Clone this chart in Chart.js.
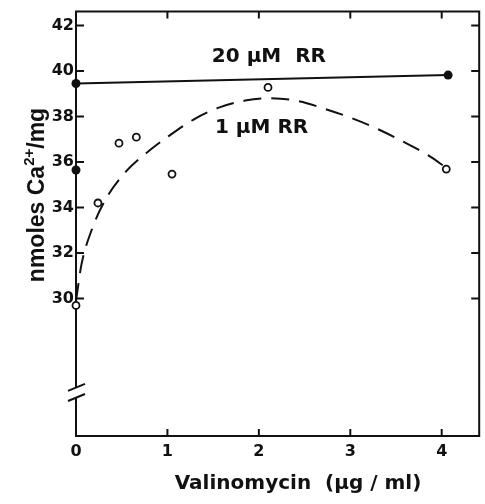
<!DOCTYPE html>
<html>
<head>
<meta charset="utf-8">
<script src="https://cdn.jsdelivr.net/npm/chart.js@4.4.1/dist/chart.umd.min.js"></script>
<style>
  html, body { margin: 0; padding: 0; background: #fff; }
</style>
</head>
<body>
<canvas id="chart" width="485" height="504"></canvas>
<script>
// 20 uM RR (filled circles, solid line)
const rr20X = [0, 4.07];
const rr20Y = [39.45, 39.82];
// extra filled point on the y axis
const filledX = [0];
const filledY = [35.65];
// 1 uM RR (open circles)
const rr1X = [0, 0.24, 0.47, 0.66, 1.05, 2.10, 4.05];
const rr1Y = [29.7, 34.2, 36.83, 37.09, 35.47, 39.28, 35.69];
// dashed curve drawn through the 1 uM RR points
const fitX = [0, 0.06, 0.17, 0.33, 0.55, 0.77, 1.0, 1.3, 1.57, 1.85, 2.1, 2.4, 2.75, 3.0, 3.3, 3.6, 3.85, 4.05];
const fitY = [29.9, 31.5, 33.0, 34.4, 35.6, 36.4, 37.1, 37.9, 38.4, 38.7, 38.8, 38.7, 38.3, 37.95, 37.45, 36.85, 36.3, 35.75];

const xTicks = [0, 1, 2, 3, 4];
const yTicks = [30, 32, 34, 36, 38, 40, 42];

const breakTop = 26.1;
const breakBottom = 25.65;

function pts(xs, ys) {
    return xs.map((v, i) => ({x: v, y: ys[i]}));
}

const ink = '#111';

const framePlugin = {
    id: 'frame',
    beforeDatasetsDraw(chart) {
        const ctx = chart.ctx;
        const a = chart.chartArea;
        const x = chart.scales.x, y = chart.scales.y;
        ctx.save();
        ctx.strokeStyle = ink;
        ctx.lineWidth = 2;
        const yb1 = y.getPixelForValue(breakTop);
        const yb2 = y.getPixelForValue(breakBottom);
        ctx.beginPath();
        ctx.moveTo(a.left, yb1);
        ctx.lineTo(a.left, a.top);
        ctx.lineTo(a.right, a.top);
        ctx.lineTo(a.right, a.bottom);
        ctx.lineTo(a.left, a.bottom);
        ctx.lineTo(a.left, yb2);
        ctx.stroke();
        // axis break marks
        [yb1, yb2].forEach(py => {
            ctx.beginPath();
            ctx.moveTo(a.left - 8, py + 3.5);
            ctx.lineTo(a.left + 9, py - 3.5);
            ctx.stroke();
        });
        // inward ticks on all four sides
        xTicks.forEach(v => {
            if (v === 0) return;
            const px = x.getPixelForValue(v);
            ctx.beginPath();
            ctx.moveTo(px, a.bottom); ctx.lineTo(px, a.bottom - 7);
            ctx.moveTo(px, a.top); ctx.lineTo(px, a.top + 7);
            ctx.stroke();
        });
        yTicks.forEach(v => {
            const py = y.getPixelForValue(v);
            ctx.beginPath();
            ctx.moveTo(a.left, py); ctx.lineTo(a.left + 8, py);
            ctx.moveTo(a.right, py); ctx.lineTo(a.right - 8, py);
            ctx.stroke();
        });
        ctx.restore();
    },
    afterDatasetsDraw(chart) {
        const ctx = chart.ctx;
        const x = chart.scales.x, y = chart.scales.y;
        ctx.save();
        ctx.fillStyle = ink;
        ctx.textBaseline = 'middle';
        ctx.textAlign = 'center';
        ctx.font = 'bold 20px "DejaVu Sans"';
        ctx.fillText('20 \u00b5M  RR', x.getPixelForValue(2.11), y.getPixelForValue(40.64));
        ctx.fillText('1 \u00b5M RR', x.getPixelForValue(2.03), y.getPixelForValue(37.49));

        // x axis title
        ctx.font = 'bold 20px "DejaVu Sans"';
        ctx.fillText('Valinomycin  (\u00b5g / ml)', 298, 484);

        // y axis title, rotated, with raised 2+
        ctx.translate(44, 195);
        ctx.rotate(-Math.PI / 2);
        ctx.textAlign = 'left';
        ctx.textBaseline = 'alphabetic';
        const big = 'bold 23px "Liberation Sans"';
        const small = 'bold 15px "Liberation Sans"';
        const parts = [['nmoles Ca', big, 0], ['2+', small, -10], ['/mg', big, 0]];
        let total = 0;
        parts.forEach(p => { ctx.font = p[1]; total += ctx.measureText(p[0]).width; });
        let cx = -total / 2;
        parts.forEach(p => {
            ctx.font = p[1];
            ctx.fillText(p[0], cx, p[2]);
            cx += ctx.measureText(p[0]).width;
        });
        ctx.restore();
    }
};

const tickFont = {family: 'DejaVu Sans', size: 16, weight: 'bold'};

const ctx = document.getElementById('chart').getContext('2d');
const myChart = new Chart(ctx, {
    type: 'scatter',
    data: {
        datasets: [{
            label: '1 uM RR',
            data: pts(rr1X, rr1Y),
            pointRadius: 3.5,
            pointBackgroundColor: '#fff',
            pointBorderColor: ink,
            pointBorderWidth: 1.8,
            showLine: false,
            clip: false,
            order: 0
        }, {
            label: 'filled',
            data: pts(filledX, filledY),
            pointRadius: 4.5,
            pointBackgroundColor: ink,
            pointBorderColor: ink,
            pointBorderWidth: 0,
            showLine: false,
            clip: false,
            order: 0
        }, {
            label: '20 uM RR',
            data: pts(rr20X, rr20Y),
            showLine: true,
            borderColor: ink,
            borderWidth: 2,
            pointRadius: 4.5,
            pointBackgroundColor: ink,
            pointBorderColor: ink,
            pointBorderWidth: 0,
            clip: false,
            order: 1
        }, {
            label: 'fit',
            data: pts(fitX, fitY),
            showLine: true,
            borderColor: ink,
            borderWidth: 2,
            borderDash: [18, 10],
            tension: 0.4,
            cubicInterpolationMode: 'monotone',
            pointRadius: 0,
            clip: false,
            order: 2
        }]
    },
    options: {
        responsive: false,
        animation: false,
        layout: {padding: {left: 0, right: 3, top: 10, bottom: 0}},
        plugins: {
            legend: {display: false},
            tooltip: {enabled: false}
        },
        scales: {
            x: {
                type: 'linear',
                min: 0,
                max: 4.41,
                grid: {display: false, drawTicks: false},
                border: {display: false},
                afterBuildTicks: s => { s.ticks = xTicks.map(v => ({value: v})); },
                afterFit: s => { s.height = 68; },
                ticks: {
                    color: ink,
                    font: tickFont,
                    padding: 6,
                    autoSkip: false,
                    maxRotation: 0
                }
            },
            y: {
                type: 'linear',
                min: 23.96,
                max: 42.61,
                grid: {display: false, drawTicks: false},
                border: {display: false},
                afterBuildTicks: s => { s.ticks = yTicks.map(v => ({value: v})); },
                afterFit: s => { s.width = 76; },
                ticks: {
                    color: ink,
                    font: tickFont,
                    padding: 2,
                    autoSkip: false
                }
            }
        }
    },
    plugins: [framePlugin]
});
</script>
</body>
</html>
